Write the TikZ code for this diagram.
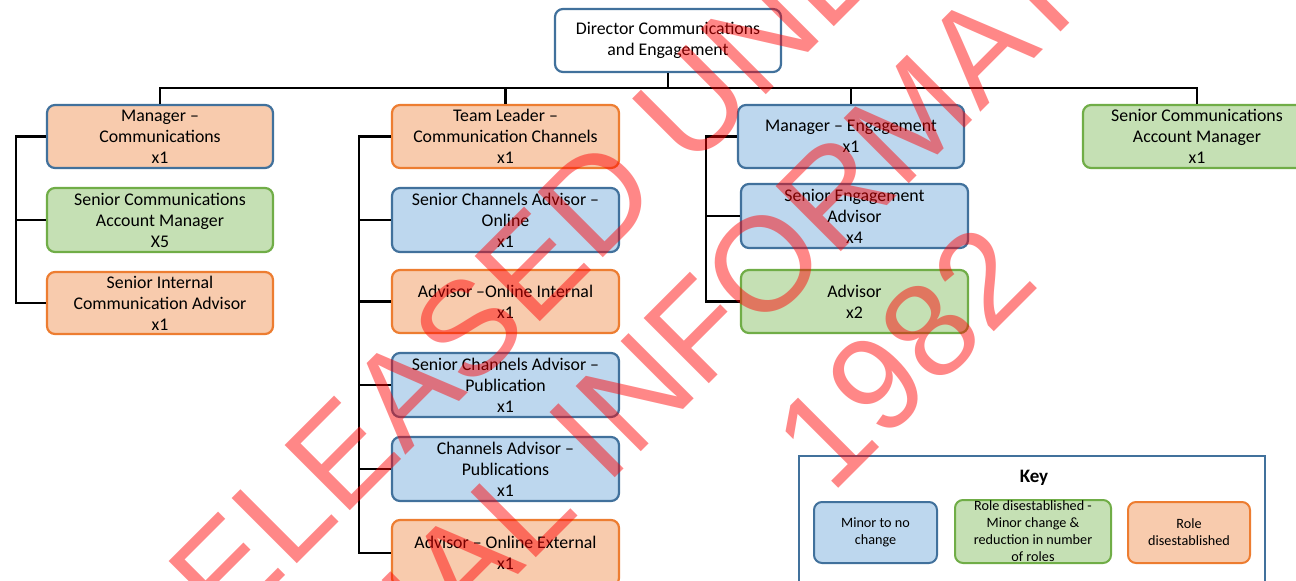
\documentclass[tikz,border=0pt]{standalone}
\usepackage{fontspec}
\setmainfont{Carlito}
\newfontfamily\wmfont{Liberation Sans}
\definecolor{bluefill}{HTML}{BDD7EE}
\definecolor{blueline}{HTML}{41719C}
\definecolor{orangefill}{HTML}{F8CBAD}
\definecolor{orangeline}{HTML}{ED7D31}
\definecolor{greenfill}{HTML}{C5E0B4}
\definecolor{greenline}{HTML}{70AD47}
\tikzset{
  role/.style={rounded corners=8pt, line width=2.2pt, align=center, inner sep=0pt,
    minimum width=226pt, minimum height=63pt, font=\fontsize{17.8}{21}\selectfont},
  bluerole/.style={role, fill=bluefill, draw=blueline},
  orangerole/.style={role, fill=orangefill, draw=orangeline},
  greenrole/.style={role, fill=greenfill, draw=greenline},
  keyitem/.style={rounded corners=8pt, line width=2pt, align=center, inner sep=0pt,
    minimum height=61pt, font=\fontsize{14.2}{17}\selectfont},
  link/.style={line width=2.4pt, black},
  watermark/.style={rotate=45, text=red, opacity=0.47, inner sep=0pt,
    font=\wmfont\fontsize{134}{134}\selectfont}
}
\begin{document}
\begin{tikzpicture}[x=1pt, y=-1pt]
\useasboundingbox (0,0) rectangle (1296,581);
\clip (0,0) rectangle (1296,581);
\fill[white] (0,0) rectangle (1296,581);

% rails and bus
\coordinate (bus) at (0,88);
\coordinate (lrail) at (16,0);
\coordinate (trail) at (359,0);
\coordinate (erail) at (706,0);

% top
\node[role, fill=white, draw=blueline] (dir) at (668,40.5) {Director Communications\\and Engagement};

% left column
\node[orangerole, draw=blueline] (mgrc) at (160,136.5) {Manager –\\Communications\\x1};
\node[greenrole, minimum height=64pt] (scam5) at (160,220) {Senior Communications\\Account Manager\\X5};
\node[orangerole, minimum height=62pt] (sica) at (160,303) {Senior Internal\\Communication Advisor\\x1};

% channels column
\node[orangerole, minimum width=227pt] (tl) at (505.5,136.5) {Team Leader –\\Communication Channels\\x1};
\node[bluerole, minimum width=227pt, minimum height=64pt] (scao) at (505.5,220) {Senior Channels Advisor –\\Online\\x1};
\node[orangerole, minimum width=227pt] (aoi) at (505.5,301.5) {Advisor –Online Internal\\x1};
\node[bluerole, minimum width=227pt, minimum height=64pt] (scap) at (505.5,385) {Senior Channels Advisor –\\Publication\\x1};
\node[bluerole, minimum width=227pt, minimum height=64pt] (cap) at (505.5,469) {Channels Advisor –\\Publications\\x1};
\node[orangerole, minimum width=227pt, minimum height=66pt] (aoe) at (505.5,553) {Advisor – Online External\\x1};

% engagement column
\node[bluerole] (mgre) at (851,136.5) {Manager – Engagement\\x1};
\node[bluerole, minimum width=227pt, minimum height=64pt] (sea) at (854.5,216) {Senior Engagement\\Advisor\\x4};
\node[greenrole, minimum width=227pt] (adv2) at (854.5,301.5) {Advisor\\x2};

% right
\node[greenrole, minimum width=228pt] (scamr) at (1197,136.5) {Senior Communications\\Account Manager\\x1};

% connectors
\draw[link] (dir.south) -- (dir.south |- bus);
\draw[link] (mgrc.north) |- (bus -| scamr.north) -- (scamr.north);
\draw[link] (tl.north) -- (tl.north |- bus);
\draw[link] (mgre.north) -- (mgre.north |- bus);

\draw[link] (mgrc.west) -- (mgrc.west -| lrail) |- (sica.west);
\draw[link] (scam5.west) -- (scam5.west -| lrail);

\draw[link] (tl.west) -- (tl.west -| trail) |- (aoe.west);
\foreach \n in {scao, aoi, scap, cap}
  \draw[link] (\n.west) -- (\n.west -| trail);

\draw[link] (mgre.west) -- (mgre.west -| erail) |- (adv2.west);
\draw[link] (sea.west) -- (sea.west -| erail);

% key
\node[draw=blueline, fill=white, line width=2pt, minimum width=466pt, minimum height=144pt, inner sep=0pt] (key) at (1032,528) {};
\node[font=\bfseries\fontsize{19}{23}\selectfont, inner sep=0pt] (keytitle) at (1034,478) {Key};
\node[keyitem, fill=bluefill, draw=blueline, minimum width=123pt] (kblue) at (875.5,532.5) {Minor to no\\change};
\node[keyitem, fill=greenfill, draw=greenline, minimum width=156pt, minimum height=63pt] (kgreen) at (1033,531.5) {Role disestablished -\\Minor change \&\\reduction in number\\of roles};
\node[keyitem, fill=orangefill, draw=orangeline, minimum width=122pt] (korange) at (1189,532.5) {Role\\disestablished};

% release stamp
\node[watermark] (wm1) at (668,128) {RELEASED UNDER THE};
\node[watermark] (wm2) at (784,244) {OFFICIAL INFORMATION ACT};
\node[watermark] (wm3) at (904,357) {1982};
\end{tikzpicture}
\end{document}
